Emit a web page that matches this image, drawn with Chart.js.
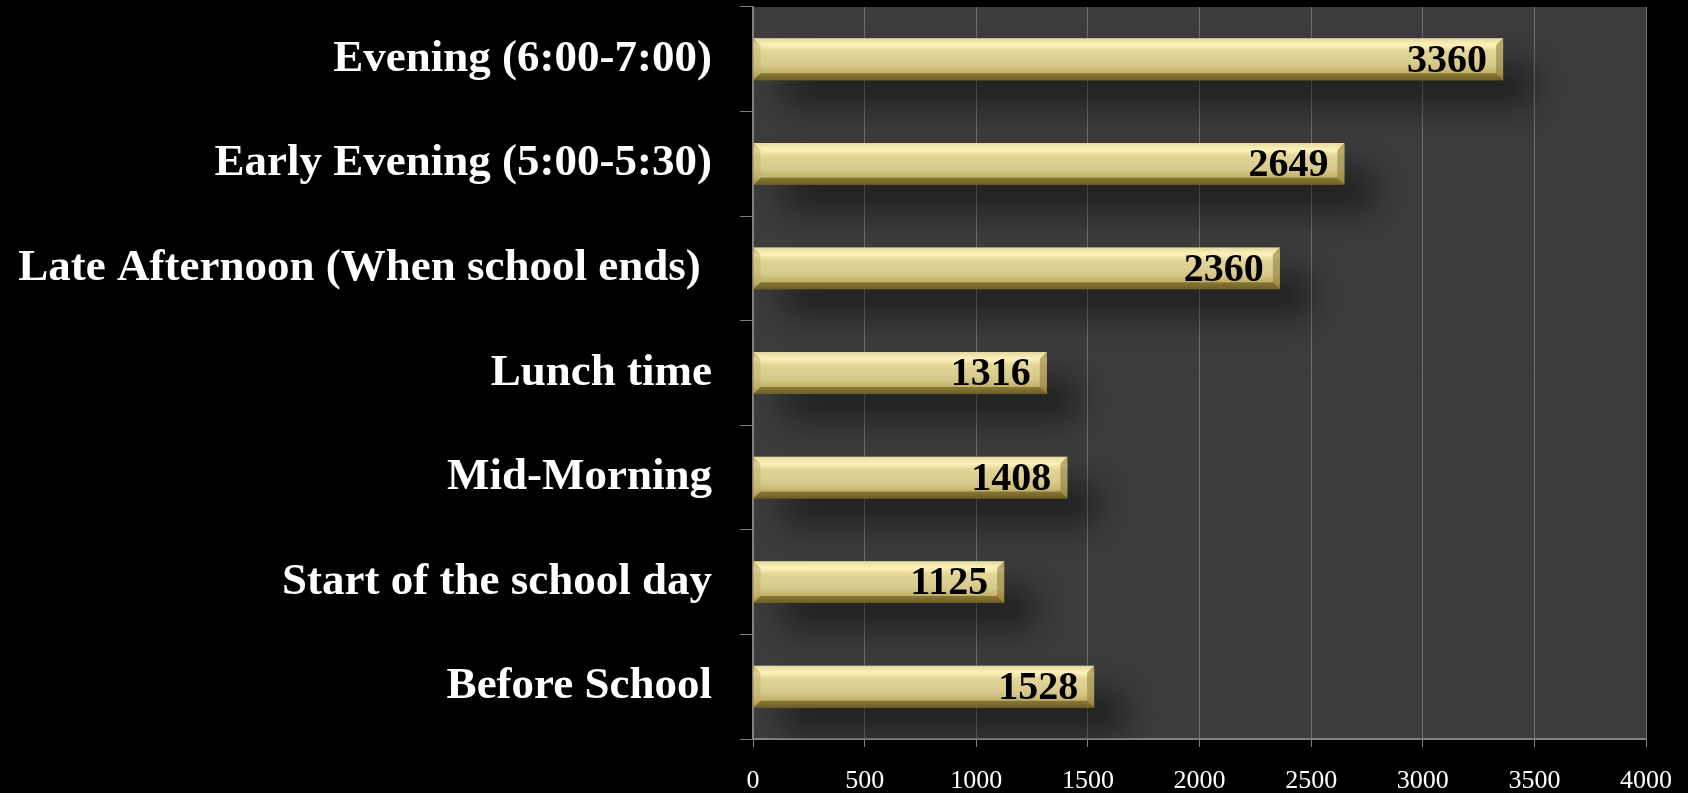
<!DOCTYPE html>
<html>
<head>
<meta charset="utf-8">
<title>Time of day</title>
<script src="https://cdn.jsdelivr.net/npm/chart.js@4.4.1/dist/chart.umd.min.js"></script>
<style>
  html, body { margin: 0; padding: 0; background: #000; }
  #wrap { width: 1688px; height: 793px; }
</style>
</head>
<body>
<div id="wrap"><canvas id="chart" width="1688" height="793"></canvas></div>
<script>
// categories listed bottom -> top, as in the picture
const CATEGORIES = [
  "Before School",
  "Start of the school day",
  "Mid-Morning",
  "Lunch time",
  "Late Afternoon (When school ends) ",
  "Early Evening (5:00-5:30)",
  "Evening (6:00-7:00)"
];
const VALUES = [1528, 1125, 1408, 1316, 2360, 2649, 3360];
const X_MIN = 0;
const X_MAX = 4000;
const X_STEP = 500;

const SERIF = "'Liberation Serif', 'Times New Roman', serif";
const BAR_PCT = 0.4;

// plot background
const plotBg = {
  id: "plotBg",
  beforeDraw(chart) {
    const { ctx, chartArea: a } = chart;
    ctx.save();
    ctx.fillStyle = "#3c3c3c";
    ctx.fillRect(a.left, a.top, a.right - a.left, a.bottom - a.top);
    ctx.restore();
  }
};

// soft shadow under bars
const barShadow = {
  id: "barShadow",
  beforeDatasetDraw(chart) {
    const ctx = chart.ctx;
    ctx.save();
    ctx.shadowColor = "rgba(0,0,0,0.5)";
    ctx.shadowBlur = 34;
    ctx.shadowOffsetX = 30;
    ctx.shadowOffsetY = 26;
  },
  afterDatasetDraw(chart) {
    chart.ctx.restore();
  }
};

// bevel edges + value labels
const bevelAndLabels = {
  id: "bevelAndLabels",
  afterDatasetsDraw(chart) {
    const ctx = chart.ctx;
    const meta = chart.getDatasetMeta(0);
    meta.data.forEach((bar, i) => {
      const top = bar.y - bar.height / 2;
      const bot = bar.y + bar.height / 2;
      const l = bar.base, r = bar.x, b = 7;
      ctx.save();
      // top
      ctx.fillStyle = "rgba(255,250,205,0.5)";
      ctx.beginPath();
      ctx.moveTo(l, top); ctx.lineTo(r, top); ctx.lineTo(r - b, top + b); ctx.lineTo(l + b, top + b);
      ctx.closePath(); ctx.fill();
      // bottom
      ctx.fillStyle = "rgba(95,80,25,0.6)";
      ctx.beginPath();
      ctx.moveTo(l, bot); ctx.lineTo(r, bot); ctx.lineTo(r - b, bot - b); ctx.lineTo(l + b, bot - b);
      ctx.closePath(); ctx.fill();
      // right end
      ctx.fillStyle = "rgba(140,120,55,0.55)";
      ctx.beginPath();
      ctx.moveTo(r, top); ctx.lineTo(r, bot); ctx.lineTo(r - b, bot - b); ctx.lineTo(r - b, top + b);
      ctx.closePath(); ctx.fill();
      // left end
      ctx.fillStyle = "rgba(190,170,90,0.45)";
      ctx.beginPath();
      ctx.moveTo(l, top); ctx.lineTo(l, bot); ctx.lineTo(l + b, bot - b); ctx.lineTo(l + b, top + b);
      ctx.closePath(); ctx.fill();

      ctx.fillStyle = "#000";
      ctx.font = "bold 40px " + SERIF;
      ctx.textAlign = "right";
      ctx.textBaseline = "middle";
      ctx.fillText(String(VALUES[i]), r - 16, bar.y + 2);
      ctx.restore();
    });
  }
};

function barFill(context) {
  const chart = context.chart;
  const a = chart.chartArea;
  if (!a) return "#dccf95";
  const y = chart.scales.y.getPixelForValue(context.dataIndex);
  const h = (a.bottom - a.top) / CATEGORIES.length * BAR_PCT;
  const g = chart.ctx.createLinearGradient(0, y - h / 2, 0, y + h / 2);
  g.addColorStop(0, "#c9ba72");
  g.addColorStop(0.18, "#fcf0b4");
  g.addColorStop(0.3, "#e4d699");
  g.addColorStop(0.65, "#d6c88a");
  g.addColorStop(0.85, "#bfad62");
  g.addColorStop(1, "#867331");
  return g;
}

new Chart(document.getElementById("chart"), {
  type: "bar",
  data: {
    labels: CATEGORIES,
    datasets: [{
      data: VALUES,
      backgroundColor: barFill,
      borderWidth: 0,
      barPercentage: BAR_PCT,
      categoryPercentage: 1
    }]
  },
  options: {
    indexAxis: "y",
    responsive: false,
    animation: false,
    layout: { padding: { top: 7, right: 42, left: 0, bottom: 0 } },
    plugins: {
      legend: { display: false },
      tooltip: { enabled: false }
    },
    scales: {
      x: {
        min: X_MIN,
        max: X_MAX,
        ticks: {
          stepSize: X_STEP,
          color: "#ffffff",
          font: { family: SERIF, size: 26 },
          padding: 19,
          maxRotation: 0,
          callback: v => String(v)
        },
        grid: { color: "#6e6e6e", lineWidth: 1, tickLength: 8, tickColor: "#808080" },
        border: { color: "#808080", width: 2 },
        afterFit(scale) {
          scale.height = 54;
          scale.paddingLeft = 0;
          scale.paddingRight = 0;
        }
      },
      y: {
        reverse: true,
        ticks: {
          color: "#ffffff",
          font: { family: SERIF, size: 45, weight: "bold" },
          padding: 28
        },
        grid: { drawOnChartArea: false, tickLength: 13, color: "#808080", offset: true },
        border: { color: "#808080", width: 2 },
        afterFit(scale) {
          scale.width = 753;
          scale.paddingTop = 0;
          scale.paddingBottom = 0;
        }
      }
    }
  },
  plugins: [plotBg, barShadow, bevelAndLabels]
});
</script>
</body>
</html>
